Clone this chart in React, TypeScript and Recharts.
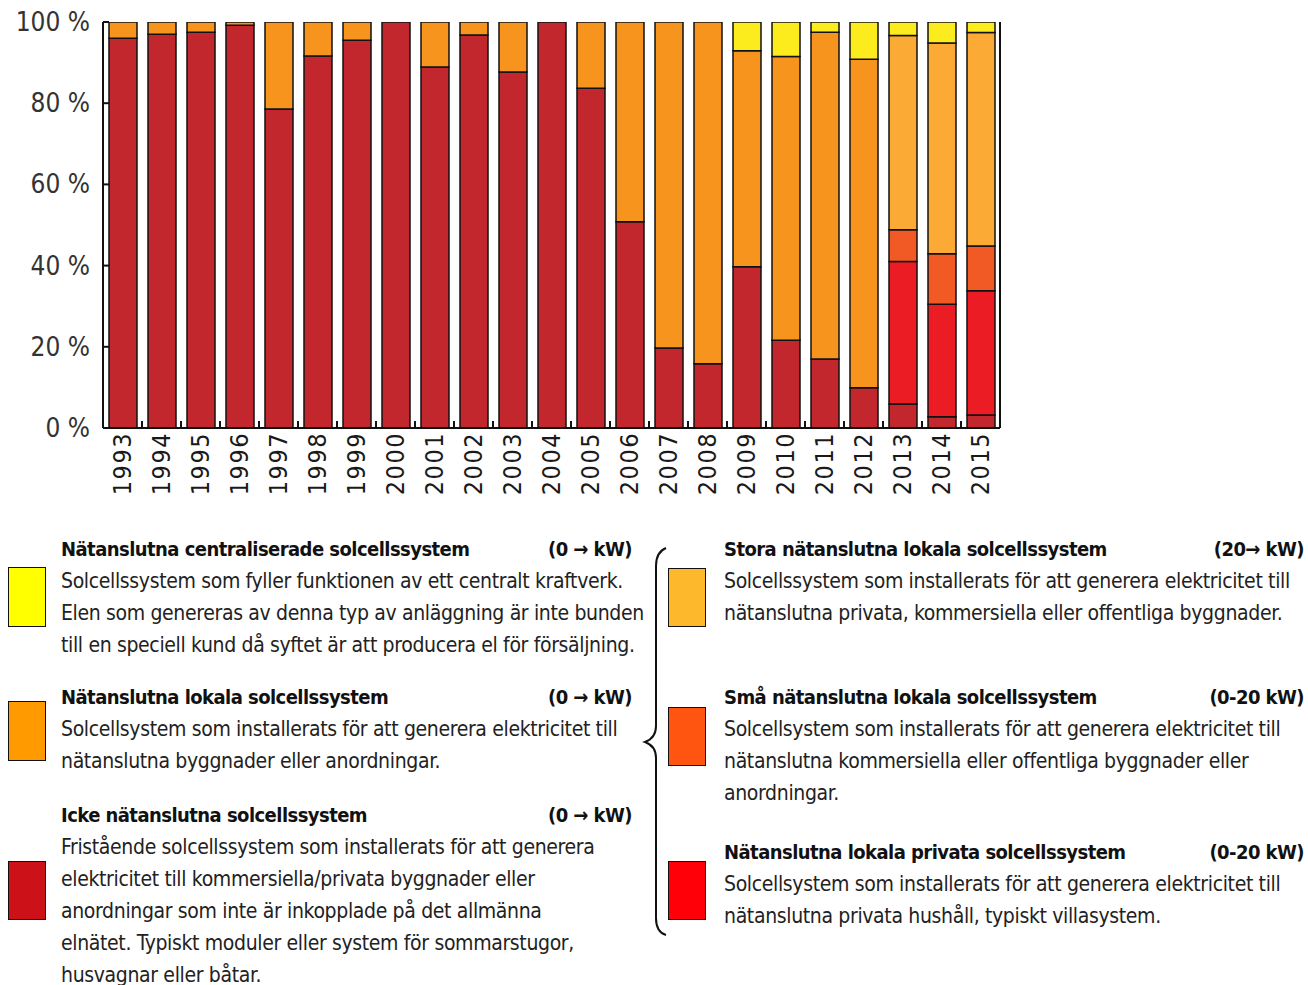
import { Bar, BarChart, XAxis, YAxis } from 'recharts'

const years = ['1993', '1994', '1995', '1996', '1997', '1998', '1999', '2000', '2001', '2002', '2003', '2004',
  '2005', '2006', '2007', '2008', '2009', '2010', '2011', '2012', '2013', '2014', '2015']

// share of installed power per year, %, bottom → top
const offGrid = [96, 97, 97.5, 99.2, 78.6, 91.6, 95.5, 100, 88.9, 96.8, 87.7, 100,
  83.7, 50.8, 19.7, 15.8, 39.7, 21.6, 17, 9.9, 5.9, 2.8, 3.2]
const privateLocal = [null, null, null, null, null, null, null, null, null, null, null, null,
  null, null, null, null, null, null, null, null, 35.1, 27.7, 30.6]
const smallLocal = [null, null, null, null, null, null, null, null, null, null, null, null,
  null, null, null, null, null, null, null, null, 7.8, 12.4, 11]
const largeLocal = [null, null, null, null, null, null, null, null, null, null, null, null,
  null, null, null, null, null, null, null, null, 47.9, 51.9, 52.6]
const gridLocal = [4, 3, 2.5, 0.8, 21.4, 8.4, 4.5, null, 11.1, 3.2, 12.3, null,
  16.3, 49.2, 80.3, 84.2, 53.2, 69.9, 80.5, 80.9, null, null, null]
const central = [null, null, null, null, null, null, null, null, null, null, null, null,
  null, null, null, null, 7.1, 8.5, 2.5, 9.2, 3.3, 5.2, 2.6]

const yTicks = [0, 20, 40, 60, 80, 100]

const series = [
  { key: 'offGrid', values: offGrid, color: '#C1272D' },
  { key: 'privateLocal', values: privateLocal, color: '#EC1C24' },
  { key: 'smallLocal', values: smallLocal, color: '#F15A24' },
  { key: 'largeLocal', values: largeLocal, color: '#FBAA36' },
  { key: 'gridLocal', values: gridLocal, color: '#F7941E' },
  { key: 'central', values: central, color: '#FCEC1E' },
]

const data = years.map((year, i) => {
  const row: any = { year }
  series.forEach((s) => { row[s.key] = s.values[i] })
  return row
})

const legendLeft = [
  {
    title: 'Nätanslutna centraliserade solcellssystem', range: '(0 → kW)', color: '#FFFF00', top: 533, box: 567, boxH: 61,
    body: ['Solcellssystem som fyller funktionen av ett centralt kraftverk.',
      'Elen som genereras av denna typ av anläggning är inte bunden',
      'till en speciell kund då syftet är att producera el för försäljning.'],
  },
  {
    title: 'Nätanslutna lokala solcellssystem', range: '(0 → kW)', color: '#FF9A00', top: 681, box: 701, boxH: 61,
    body: ['Solcellsystem som installerats för att generera elektricitet till',
      'nätanslutna byggnader eller anordningar.'],
  },
  {
    title: 'Icke nätanslutna solcellssystem', range: '(0 → kW)', color: '#CC1118', top: 799, box: 861, boxH: 60,
    body: ['Fristående solcellssystem som installerats för att generera',
      'elektricitet till kommersiella/privata byggnader eller',
      'anordningar som inte är inkopplade på det allmänna',
      'elnätet. Typiskt moduler eller system för sommarstugor,',
      'husvagnar eller båtar.'],
  },
]

const legendRight = [
  {
    title: 'Stora nätanslutna lokala solcellssystem', range: '(20→ kW)', color: '#FDB92B', top: 533, box: 568, boxH: 60,
    body: ['Solcellssystem som installerats för att generera elektricitet till',
      'nätanslutna privata, kommersiella eller offentliga byggnader.'],
  },
  {
    title: 'Små nätanslutna lokala solcellssystem', range: '(0-20 kW)', color: '#FF5511', top: 681, box: 707, boxH: 60,
    body: ['Solcellsystem som installerats för att generera elektricitet till',
      'nätanslutna kommersiella eller offentliga byggnader eller',
      'anordningar.'],
  },
  {
    title: 'Nätanslutna lokala privata solcellssystem', range: '(0-20 kW)', color: '#FF0008', top: 836, box: 861, boxH: 60,
    body: ['Solcellsystem som installerats för att generera elektricitet till',
      'nätanslutna privata hushåll, typiskt villasystem.'],
  },
]

const FONT = '"DejaVu Sans Condensed", "DejaVu Sans", sans-serif'

function YTickLeft({ x, y, payload }: any) {
  return (
    <g>
      <line x1={x + 13} x2={x + 19} y1={y} y2={y} stroke="#111" strokeWidth={2} />
      <text x={x} y={y} textAnchor="end" dominantBaseline="central" fill="#333" fontSize={26} fontFamily={FONT}>
        {payload.value} %
      </text>
    </g>
  )
}

function YTickRight({ x, y }: any) {
  return <line x1={x - 6} x2={x} y1={y} y2={y} stroke="#111" strokeWidth={2} />
}

function XTick({ x, y, payload, index }: any) {
  const half = 897 / years.length / 2
  return (
    <g>
      {index < years.length - 1 && (
        <line x1={x + half} x2={x + half} y1={428} y2={421} stroke="#111" strokeWidth={2} />
      )}
      <text
        x={x} y={y} transform={`rotate(-90 ${x} ${y})`} textAnchor="end" dominantBaseline="central"
        fill="#1a1a1a" fontSize={25} letterSpacing={1.5} fontFamily={FONT}
      >
        {payload.value}
      </text>
    </g>
  )
}

function LegendItem({ item, left, textLeft, rangeRight }: any) {
  return (
    <>
      <div style={{
        position: 'absolute', left, top: item.box, width: 36, height: item.boxH - 3,
        background: item.color, border: '1.5px solid #111',
      }} />
      <div style={{
        position: 'absolute', left: textLeft, top: item.top, width: rangeRight - textLeft, lineHeight: '32px',
        fontSize: 21, letterSpacing: -0.35, fontFamily: FONT, color: '#222', whiteSpace: 'nowrap',
      }}>
        <div style={{
          display: 'flex', justifyContent: 'space-between', fontWeight: 'bold', color: '#111', fontSize: 20, letterSpacing: -0.55,
        }}>
          <span>{item.title}</span><span>{item.range}</span>
        </div>
        {item.body.map((line: string) => <div key={line}>{line}</div>)}
      </div>
    </>
  )
}

export default function App() {
  return (
    <div style={{ position: 'absolute', left: 0, top: 0, width: 1308, height: 985, background: '#fff', overflow: 'hidden' }}>
      <BarChart width={1010} height={500} data={data} margin={{ top: 22, right: 0, bottom: 0, left: 0 }} barSize={28}>
        <XAxis
          dataKey="year" height={72} interval={0} tickLine={false} tickSize={0} tickMargin={4}
          axisLine={{ stroke: '#111', strokeWidth: 2 }} tick={<XTick />}
        />
        <YAxis
          domain={[0, 100]} ticks={yTicks} width={103} tickLine={false} tickSize={0} tickMargin={13}
          axisLine={{ stroke: '#111', strokeWidth: 2 }} tick={<YTickLeft />} allowDataOverflow
        />
        <YAxis
          yAxisId="r" orientation="right" domain={[0, 100]} ticks={yTicks} width={10} tickLine={false}
          tickSize={0} tickMargin={0} axisLine={{ stroke: '#111', strokeWidth: 2 }} tick={<YTickRight />}
        />
        {series.map((s) => (
          <Bar key={s.key} dataKey={s.key} stackId="a" fill={s.color} stroke="#111" strokeWidth={1.5} isAnimationActive={false} />
        ))}
      </BarChart>

      {legendLeft.map((item) => (
        <LegendItem key={item.title} item={item} left={8} textLeft={61} rangeRight={632} />
      ))}
      {legendRight.map((item) => (
        <LegendItem key={item.title} item={item} left={668} textLeft={724} rangeRight={1304} />
      ))}

      <svg style={{ position: 'absolute', left: 0, top: 0 }} width={1308} height={985}>
        <path
          d="M666 548 Q656 552 656 566 L656 726 Q656 738 645 742 Q656 746 656 758 L656 918 Q656 932 666 935"
          fill="none" stroke="#111" strokeWidth={2}
        />
      </svg>
    </div>
  )
}
